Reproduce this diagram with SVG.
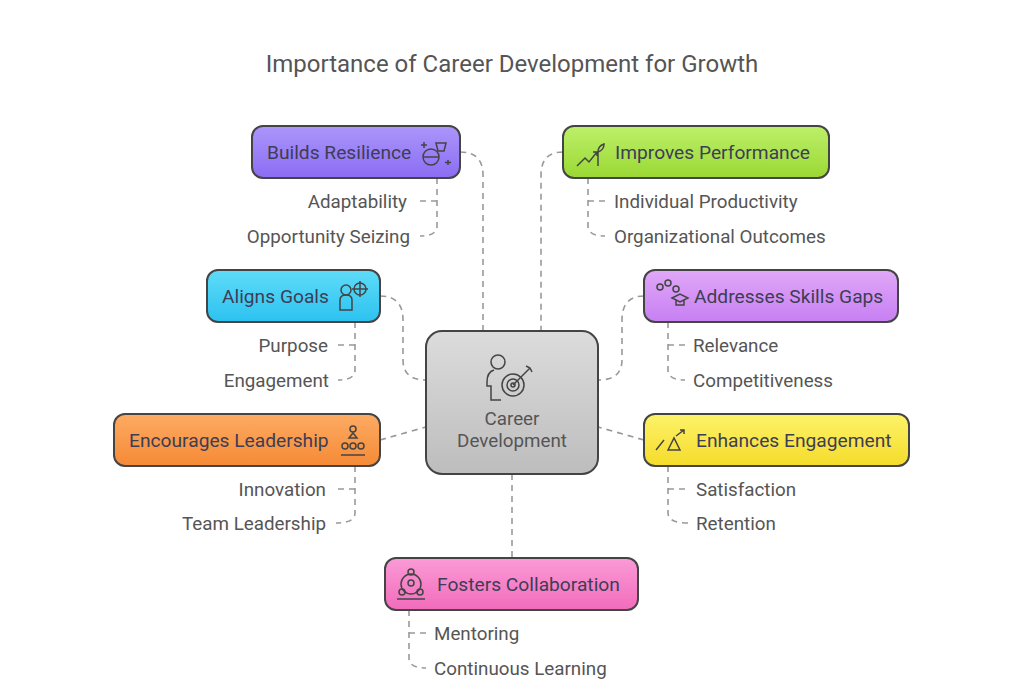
<svg xmlns="http://www.w3.org/2000/svg" width="1024" height="691" viewBox="0 0 1024 691">
<defs>
<linearGradient id="gP" x1="0" y1="0" x2="0" y2="1"><stop offset="0" stop-color="#ab96fb"/><stop offset="1" stop-color="#8b6cf3"/></linearGradient>
<linearGradient id="gG" x1="0" y1="0" x2="0" y2="1"><stop offset="0" stop-color="#bdf06a"/><stop offset="1" stop-color="#9ad833"/></linearGradient>
<linearGradient id="gC" x1="0" y1="0" x2="0" y2="1"><stop offset="0" stop-color="#5fdcf8"/><stop offset="1" stop-color="#2cc2f0"/></linearGradient>
<linearGradient id="gV" x1="0" y1="0" x2="0" y2="1"><stop offset="0" stop-color="#e0a8f8"/><stop offset="1" stop-color="#c77ff2"/></linearGradient>
<linearGradient id="gO" x1="0" y1="0" x2="0" y2="1"><stop offset="0" stop-color="#fdab63"/><stop offset="1" stop-color="#f58a36"/></linearGradient>
<linearGradient id="gY" x1="0" y1="0" x2="0" y2="1"><stop offset="0" stop-color="#fdf26a"/><stop offset="1" stop-color="#f5dc2a"/></linearGradient>
<linearGradient id="gK" x1="0" y1="0" x2="0" y2="1"><stop offset="0" stop-color="#fb9ad6"/><stop offset="1" stop-color="#f16cbc"/></linearGradient>
<linearGradient id="gX" x1="0" y1="0" x2="0" y2="1"><stop offset="0" stop-color="#dcdcdc"/><stop offset="1" stop-color="#bdbdbd"/></linearGradient>
</defs>
<style>
.box{stroke:#444;stroke-width:2}
.t{font-family:Roboto,"Liberation Sans",sans-serif;font-size:19.2px;fill:#3d3d55}
.s{font-family:Roboto,"Liberation Sans",sans-serif;font-size:18.8px;fill:#555}
.c{fill:none;stroke:#999;stroke-width:1.6;stroke-dasharray:6 5}
.i{fill:none;stroke:#444;stroke-width:1.5}
</style>
<rect width="1024" height="691" fill="#fff"/>
<text x="512" y="72" text-anchor="middle" font-family="Roboto,'Liberation Sans',sans-serif" font-size="24" fill="#555">Importance of Career Development for Growth</text>
<g id="connectors">
<path class="c" d="M460 152 Q483 152 483 175 L483 331"/>
<path class="c" d="M563 152 Q541 152 541 175 L541 331"/>
<path class="c" d="M380 296 Q403 296 403 320 L403 360 Q403 380 426 380"/>
<path class="c" d="M644 296 Q622 296 622 320 L622 360 Q622 380 598 380"/>
<path class="c" d="M380 440 L426 427"/>
<path class="c" d="M644 440 L598 427"/>
<path class="c" d="M512 474 L512 558"/>
<path class="c" d="M437 178 L437 226 Q437 236 420 236 M437 201 L418 201"/>
<path class="c" d="M588 178 L588 226 Q588 236 605 236 M588 201 L606 201"/>
<path class="c" d="M355 322 L355 370 Q355 380 338 380 M355 345 L338 345"/>
<path class="c" d="M668 322 L668 370 Q668 380 685 380 M668 345 L686 345"/>
<path class="c" d="M355 466 L355 513 Q355 523 336 523 M355 489 L336 489"/>
<path class="c" d="M668 466 L668 513 Q668 523 688 523 M668 489 L688 489"/>
<path class="c" d="M409 610 L409 658 Q409 668 426 668 M409 633 L426 633"/>
</g>
<g id="center">
<rect class="box" x="426" y="331" width="172" height="143" rx="16" fill="url(#gX)"/>
<circle class="i" cx="498" cy="362" r="7"/>
<path class="i" d="M494 370 q-7 2 -7 12 v4 h4 v14 h10"/>
<circle class="i" cx="513" cy="385" r="11"/><circle class="i" cx="513" cy="385" r="6"/><circle class="i" cx="513" cy="385" r="2"/>
<path class="i" d="M513 385 L530 368 M526 366 l4 2 2 4"/>
<text class="s" x="512" y="425" text-anchor="middle" font-size="20.5">Career</text>
<text class="s" x="512" y="447" text-anchor="middle" font-size="20.5">Development</text>
</g>
<g id="n1"><rect class="box" x="252" y="126" width="208" height="52" rx="11" fill="url(#gP)"/><text class="t" x="267" y="159">Builds Resilience</text>
<circle class="i" cx="431" cy="157" r="8"/><path class="i" d="M423 157h16 M436 143l2 8h6l2-8z M424 142v6 M421 145h6 M448 160v5 M445 162.5h6"/></g>
<g id="n2"><rect class="box" x="563" y="126" width="266" height="52" rx="11" fill="url(#gG)"/><text class="t" x="615" y="159">Improves Performance</text>
<path class="i" d="M577 166 l8-8 4 4 8-10 M593 152h4v4 M598 166v-14 q0-6 6-8 q0 6 -6 8"/></g>
<g id="n3"><rect class="box" x="207" y="270" width="173" height="52" rx="11" fill="url(#gC)"/><text class="t" x="222" y="303">Aligns Goals</text>
<circle class="i" cx="346" cy="290" r="5"/><path class="i" d="M340 310v-10q0-5 6-5q6 0 6 5v10z"/><circle class="i" cx="360" cy="289" r="6"/><path class="i" d="M360 281v16 M352 289h16"/></g>
<g id="n4"><rect class="box" x="644" y="270" width="254" height="52" rx="11" fill="url(#gV)"/><text class="t" x="694" y="303">Addresses Skills Gaps</text>
<circle class="i" cx="660" cy="287" r="3"/><circle class="i" cx="668" cy="283" r="3"/><circle class="i" cx="676" cy="289" r="3"/><path class="i" d="M672 298l8-4 8 4-8 4z M676 300v5h8v-5"/></g>
<g id="n5"><rect class="box" x="114" y="414" width="266" height="52" rx="11" fill="url(#gO)"/><text class="t" x="129" y="447">Encourages Leadership</text>
<circle class="i" cx="353" cy="429" r="3"/><path class="i" d="M349 438l4-5 4 5z"/><circle class="i" cx="345" cy="446" r="3"/><circle class="i" cx="353" cy="446" r="3"/><circle class="i" cx="361" cy="446" r="3"/><path class="i" d="M341 455h24"/></g>
<g id="n6"><rect class="box" x="644" y="414" width="265" height="52" rx="11" fill="url(#gY)"/><text class="t" x="696" y="447">Enhances Engagement</text>
<path class="i" d="M656 450l8-10 M668 450l6-12 6 12z M676 436l8-6 M680 430h4v4"/></g>
<g id="n7"><rect class="box" x="385" y="558" width="253" height="52" rx="11" fill="url(#gK)"/><text class="t" x="437" y="591">Fosters Collaboration</text>
<circle class="i" cx="411" cy="584" r="10"/><circle class="i" cx="411" cy="583" r="3"/><circle class="i" cx="411" cy="572" r="3"/><circle class="i" cx="402" cy="592" r="3"/><circle class="i" cx="420" cy="592" r="3"/><path class="i" d="M397 599h28"/></g>
<g id="labels">
<text class="s" x="407" y="208" text-anchor="end">Adaptability</text>
<text class="s" x="410" y="243" text-anchor="end">Opportunity Seizing</text>
<text class="s" x="614" y="208">Individual Productivity</text>
<text class="s" x="614" y="243">Organizational Outcomes</text>
<text class="s" x="328" y="352" text-anchor="end">Purpose</text>
<text class="s" x="329" y="387" text-anchor="end">Engagement</text>
<text class="s" x="693" y="352">Relevance</text>
<text class="s" x="693" y="387">Competitiveness</text>
<text class="s" x="326" y="496" text-anchor="end">Innovation</text>
<text class="s" x="326" y="530" text-anchor="end">Team Leadership</text>
<text class="s" x="696" y="496">Satisfaction</text>
<text class="s" x="696" y="530">Retention</text>
<text class="s" x="434" y="640">Mentoring</text>
<text class="s" x="434" y="675">Continuous Learning</text>
</g>
</svg>
